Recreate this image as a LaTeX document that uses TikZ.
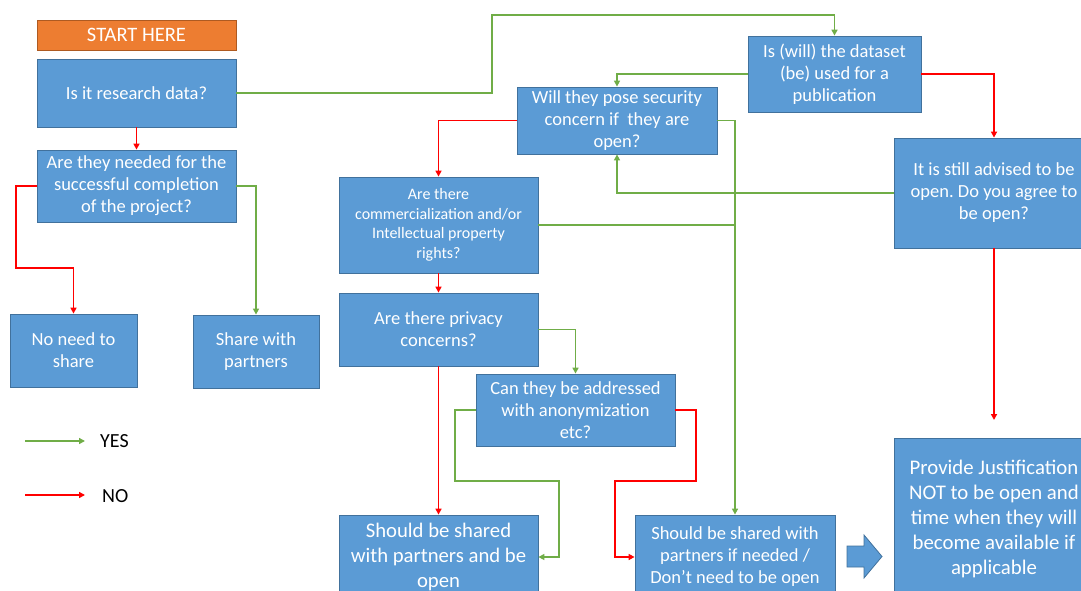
\documentclass[tikz,border=0pt]{standalone}
\usepackage{fontspec}
\setmainfont{Carlito}
\usetikzlibrary{arrows.meta}
\definecolor{boxblue}{HTML}{5B9BD5}
\definecolor{boxedge}{HTML}{41719C}
\definecolor{startor}{HTML}{ED7D31}
\definecolor{startedge}{HTML}{AE5A21}
\definecolor{yesgreen}{HTML}{70AD47}
\definecolor{nored}{HTML}{FF0000}
\frenchspacing
\begin{document}
\begin{tikzpicture}[x=1pt,y=-1pt,
  box/.style={draw=boxedge, line width=0.8pt, fill=boxblue, text=white, align=center,
    inner sep=0pt, font=\fontsize{18.5}{22}\selectfont},
  startbox/.style={box, draw=startedge, fill=startor},
  yes/.style={draw=yesgreen, line width=1.6pt, -{Triangle[length=6pt,width=6pt]}},
  no/.style={draw=nored, line width=1.6pt, -{Triangle[length=6pt,width=6pt]}},
  yesline/.style={draw=yesgreen, line width=1.6pt},
  legend/.style={text=black, inner sep=0pt, anchor=west, font=\fontsize{20}{22}\selectfont}
]
\useasboundingbox (0,0) rectangle (1081,591);
\clip (0,0) rectangle (1081,591);

% boxes
\node[startbox, minimum width=199, minimum height=30, font=\fontsize{20.5}{22}\selectfont] (start) at (136.5,35) {START HERE};
\node[box, minimum width=199, minimum height=68] (research) at (136.5,93) {Is it research data?};
\node[box, minimum width=199, minimum height=72] (needed) at (136.5,186) {Are they needed for the\\successful completion\\of the project?};
\node[box, minimum width=127, minimum height=73] (noneed) at (73.5,350.5) {No need to\\share};
\node[box, minimum width=126, minimum height=73] (share) at (256,351.5) {Share with\\partners};
\node[box, minimum width=173, minimum height=76] (dataset) at (834.5,74) {Is (will) the dataset\\(be) used for a\\publication};
\node[box, minimum width=200, minimum height=67] (security) at (617,120.5) {Will they pose security\\concern if\ \ they are\\open?};
\node[box, minimum width=199, minimum height=96, font=\fontsize{16}{19.5}\selectfont] (commercial) at (438.5,225) {Are there\\commercialization and/or\\Intellectual property\\rights?};
\node[box, minimum width=200, minimum height=110] (advised) at (994,193) {It is still advised to be\\open. Do you agree to\\be open?};
\node[box, minimum width=199, minimum height=73] (privacy) at (438.5,329.5) {Are there privacy\\concerns?};
\node[box, minimum width=199, minimum height=72] (address) at (575.5,410) {Can they be addressed\\with anonymization\\etc?};
\node[box, minimum width=199, minimum height=84, font=\fontsize{20.7}{25}\selectfont] (sharedopen) at (438.5,557) {Should be shared\\with partners and be\\open};
\node[box, minimum width=200, minimum height=84] (ifneeded) at (735,557) {Should be shared with\\partners if needed /\\Don’t need to be open};
\node[box, minimum width=200, minimum height=162, font=\fontsize{20.8}{25}\selectfont] (justify) at (994,519) {Provide Justification\\NOT to be open and\\time when they will\\become available if\\applicable};

% block arrow
\draw[draw=boxedge, line width=0.8pt, fill=boxblue]
  (847,546) -- (864,546) -- (864,535) -- (882,556.5) -- (864,578) -- (864,567) -- (847,567) -- cycle;

% connectors
\draw[no] (research.south) -- (needed.north);
\draw[yes] (research.east) -| (492,15) -| (dataset.north);
\draw[no] (needed.west) -| (16,268) -| (noneed.north);
\draw[yes] (needed.east) -| (share.north);
\draw[yes] (dataset.west) -| (security.north);
\draw[no] (dataset.east) -| (advised.north);
\draw[yes] (advised.west) -| (security.south);
\coordinate (jtop) at (994,420);
\draw[no] (advised.south) -- (jtop);
\draw[no] (security.west) -| (commercial.north);
\draw[yes] (security.east) -| (ifneeded.north);
\coordinate (join) at (735,225);
\draw[yesline] (commercial.east) -- (join);
\draw[no] (commercial.south) -- (privacy.north);
\draw[yes] (privacy.east) -| (address.north);
\draw[no] (privacy.south) -- (sharedopen.north);
\draw[yes] (address.west) -| (455,481) -| (559,557) -- (sharedopen.east);
\draw[no] (address.east) -| (696,481) -| (615,557) -- (ifneeded.west);

% legend
\coordinate (ya) at (25,441);
\coordinate (yb) at (85,441);
\coordinate (na) at (25,495);
\coordinate (nb) at (85,495);
\draw[yes] (ya) -- (yb);
\draw[no] (na) -- (nb);
\node[legend] (yeslabel) at (100,441) {YES};
\node[legend] (nolabel) at (102,496) {NO};
\end{tikzpicture}
\end{document}
